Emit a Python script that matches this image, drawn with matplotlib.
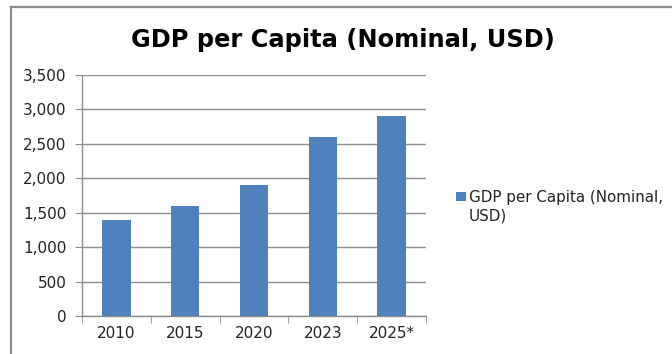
import matplotlib
matplotlib.use("Agg")
import matplotlib.pyplot as plt
from matplotlib.lines import Line2D
from matplotlib.patches import Rectangle

years = ["2010", "2015", "2020", "2023", "2025*"]
gdp_per_capita = [1400, 1600, 1900, 2600, 2900]
y_ticks = [0, 500, 1000, 1500, 2000, 2500, 3000, 3500]
series_name = "GDP per Capita (Nominal,\nUSD)"
title = "GDP per Capita (Nominal, USD)"

plt.rcParams["font.family"] = ["DejaVu Sans"]
plt.rcParams["font.sans-serif"] = ["DejaVu Sans"]

W, H = 672, 354
fig = plt.figure(figsize=(W / 100, H / 100), dpi=100)
fig.patch.set_facecolor("white")

# chart area border (top and left edges)
fig.add_artist(Line2D([10.5 / W, 10.5 / W], [0, 1 - 7 / H], transform=fig.transFigure,
                      color="#8c8c8c", lw=1.6))
fig.add_artist(Line2D([10.5 / W, 1], [1 - 7 / H, 1 - 7 / H], transform=fig.transFigure,
                      color="#8c8c8c", lw=1.6))

left, right, top, bottom = 82, 426, 75, 316
ax = fig.add_axes([left / W, 1 - bottom / H, (right - left) / W, (bottom - top) / H])

bar_color = "#4f81bd"
x = range(len(years))
ax.bar(x, gdp_per_capita, width=0.41, color=bar_color, zorder=3)

ax.set_xlim(-0.5, len(years) - 0.5)
ax.set_ylim(0, 3500)
ax.set_yticks(y_ticks)
ax.set_yticklabels([f"{v:,}" for v in y_ticks], fontsize=11, color="#222222")
ax.set_xticks(list(x))
ax.set_xticklabels(years, fontsize=11, color="#222222")
ax.tick_params(axis="x", length=0, pad=7)
ax.tick_params(axis="y", length=5, color="#8c8c8c", pad=6)

# category boundary ticks
ax.set_xticks([i - 0.5 for i in range(len(years) + 1)], minor=True)
ax.tick_params(axis="x", which="minor", length=5, color="#8c8c8c")

ax.grid(axis="y", color="#8c8c8c", lw=1.0, zorder=0)
for side in ["top", "right"]:
    ax.spines[side].set_visible(False)
for side in ["left", "bottom"]:
    ax.spines[side].set_color("#8c8c8c")
    ax.spines[side].set_linewidth(1.0)

fig.text(342.5 / W, 1 - 47 / H, title, ha="center", va="baseline", fontsize=17.4,
         fontweight="bold", color="black")

# legend: swatch aligned with the first text line
fig.add_artist(Rectangle((456 / W, 1 - 201 / H), 10 / W, 9 / H, transform=fig.transFigure,
                         facecolor=bar_color, edgecolor="none"))
fig.text(469 / W, 1 - 190 / H, series_name, ha="left", va="top", fontsize=10.9,
         color="#222222", linespacing=1.3)

fig.savefig("out.png", dpi=100, facecolor="white")
